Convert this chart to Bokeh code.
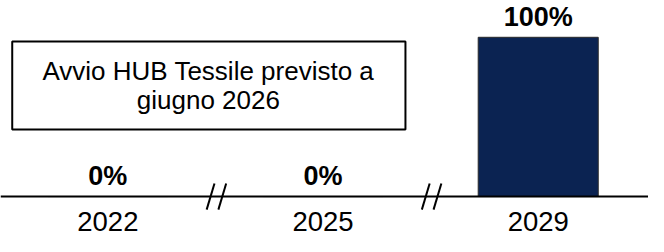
from bokeh.plotting import figure
from bokeh.models import Range1d, Span, BoxAnnotation
from bokeh.core.properties import value
from bokeh.embed import file_html
from bokeh.resources import INLINE

# ---- data ----
CATEGORIES = ["2022", "2025", "2029"]
VALUES = [0, 0, 100]
VALUE_LABELS = ["0%", "0%", "100%"]
NOTE_LINES = ["Avvio HUB Tessile previsto a", "giugno 2026"]

FONT = "Liberation Sans"
BAR_COLOR = "#0B2352"
SHIFT = -9.5  # compensates the renderer's baseline placement

xs = list(range(len(CATEGORIES)))

# reference-pixel -> data helpers (220.5 px per category, 1.7 px per point)
PX = 1 / 220.5
PY = 1 / 1.7

p = figure(width=648, height=236, output_backend="svg", toolbar_location=None,
           x_range=Range1d(-0.4989, 2.5125), y_range=Range1d(-25.1, 123.1),
           min_border=0, outline_line_color=None, background_fill_color="white",
           border_fill_color="white")
p.axis.visible = False
p.grid.visible = False

# note box (underneath the text)
p.add_layout(BoxAnnotation(left=-0.4444, right=1.383, top=97.4, bottom=42.1,
                           fill_color="white", fill_alpha=1.0,
                           line_color="black", line_alpha=1.0, line_width=2,
                           level="underlay"))
p.text(x=[0.467, 0.467], y=[72.7, 54.9], text=NOTE_LINES, text_align="center",
       text_baseline="alphabetic", y_offset=SHIFT, text_font=value(FONT),
       text_font_size="26px", text_color="black")

# bars
p.vbar(x=xs, top=VALUES, bottom=0, width=123 * PX, fill_color=BAR_COLOR,
       line_color="#2a2a2a", line_width=1)

# baseline
p.add_layout(Span(location=0, dimension="width", line_color="black", line_width=2))

# axis breaks "//" between categories
bx0, by0, bx1, by1 = [], [], [], []
for i in range(len(xs) - 1):
    c = (xs[i] + xs[i + 1]) / 2 + 1 * PX
    for off in (-6, 6):
        bx0.append(c + (off - 4) * PX)
        by0.append(-14 * PY)
        bx1.append(c + (off + 4) * PX)
        by1.append(14 * PY)
p.segment(x0=bx0, y0=by0, x1=bx1, y1=by1, line_color="black", line_width=2)

# value labels
p.text(x=xs, y=VALUES, text=VALUE_LABELS, text_align="center",
       text_baseline="alphabetic", y_offset=-11 + SHIFT,
       text_font=value(FONT), text_font_size="27px", text_font_style="bold",
       text_color="black")

# category labels
p.text(x=xs, y=[0] * len(xs), text=CATEGORIES, text_align="center",
       text_baseline="alphabetic", y_offset=34 + SHIFT,
       text_font=value(FONT), text_font_size="27.5px", text_color="black")

open("out.html", "w").write(file_html(p, INLINE))
